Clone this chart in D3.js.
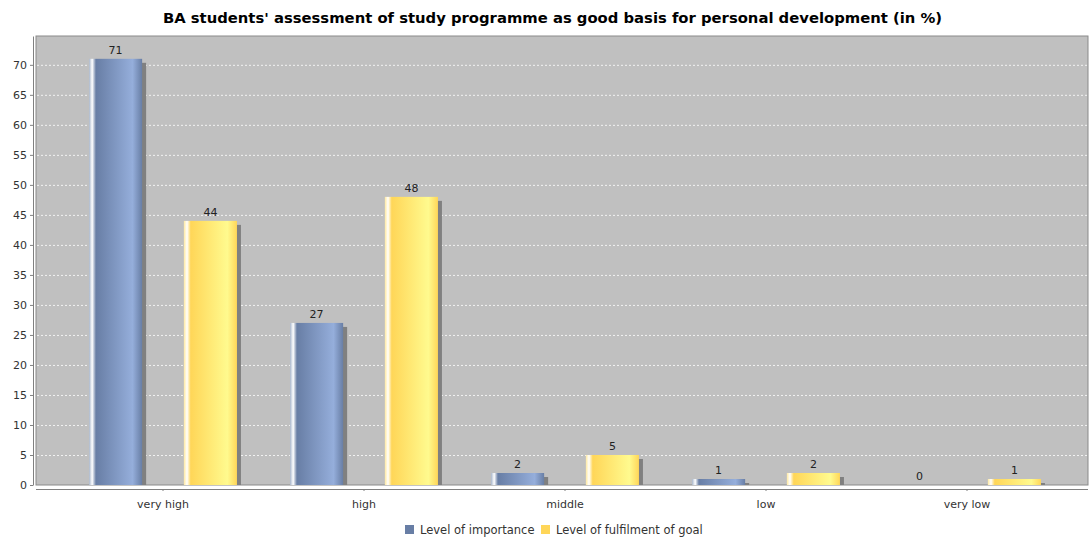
<!DOCTYPE html>
<html>
<head>
<meta charset="utf-8">
<script src="https://cdn.jsdelivr.net/npm/d3@7"></script>
<style>
  body { margin: 0; background: #fff; }
  text { font-family: "DejaVu Sans", sans-serif; }
</style>
</head>
<body>
<div id="chart"></div>
<script>
const categories = ["very high", "high", "middle", "low", "very low"];
const seriesNames = ["Level of importance", "Level of fulfilment of goal"];
const importance = [71, 27, 2, 1, 0];
const fulfilment = [44, 48, 5, 2, 1];
const yTicks = [0, 5, 10, 15, 20, 25, 30, 35, 40, 45, 50, 55, 60, 65, 70];

const width = 1089, height = 540;
const plot = {left: 36, top: 36, right: 1088, bottom: 485};

const svg = d3.select("#chart").append("svg")
  .attr("width", width)
  .attr("height", height);

// gradients like the java chart bar painter
const defs = svg.append("defs");
const colors = [
  {base: "#687ea5", light: "#95aedb", edge: "#a9b7cc"},
  {base: "#ffd658", light: "#fffa8e", edge: "#ffe9a0"}
];
colors.forEach((c, i) => {
  const g = defs.append("linearGradient").attr("id", "grad" + i)
    .attr("x1", "0%").attr("x2", "100%").attr("y1", "0%").attr("y2", "0%");
  g.append("stop").attr("offset", "0%").attr("stop-color", c.edge);
  g.append("stop").attr("offset", "6%").attr("stop-color", "#ffffff");
  g.append("stop").attr("offset", "13%").attr("stop-color", c.base);
  g.append("stop").attr("offset", "82%").attr("stop-color", c.light);
  g.append("stop").attr("offset", "100%").attr("stop-color", c.base);
});

// title
svg.append("text")
  .attr("x", width / 2 + 8)
  .attr("y", 23)
  .attr("text-anchor", "middle")
  .style("font-size", "14.8px")
  .style("font-weight", "bold")
  .attr("fill", "#000")
  .text("BA students' assessment of study programme as good basis for personal development (in %)");

// plot background
svg.append("rect")
  .attr("x", plot.left).attr("y", plot.top)
  .attr("width", plot.right - plot.left).attr("height", plot.bottom - plot.top)
  .attr("fill", "#c0c0c0")
  .attr("stroke", "#8a8a8a").attr("stroke-width", 1);

const y = d3.scaleLinear()
  .domain([0, 74.8])
  .range([plot.bottom, plot.top]);

const x0 = d3.scaleBand()
  .domain(categories)
  .range([plot.left + 26.5, plot.right - 20.5]);

const x1 = d3.scaleBand()
  .domain(seriesNames)
  .range([0, x0.bandwidth()])
  .paddingInner(0.44)
  .paddingOuter(0.28);

// grid lines
svg.append("g")
  .selectAll("line")
  .data(yTicks.filter(d => d > 0))
  .join("line")
  .attr("x1", plot.left + 1).attr("x2", plot.right - 1)
  .attr("y1", d => y(d) + 0.5).attr("y2", d => y(d) + 0.5)
  .attr("stroke", "#ffffff")
  .attr("stroke-opacity", 0.8)
  .attr("stroke-dasharray", "2,2");

// y axis
const yAxis = svg.append("g")
  .attr("transform", `translate(${plot.left - 3},0)`)
  .call(d3.axisLeft(y).tickValues(yTicks).tickSize(3).tickPadding(3).tickSizeOuter(0));
yAxis.select(".domain").attr("stroke", "#808080");
yAxis.selectAll(".tick line").attr("stroke", "#808080");
yAxis.selectAll("text").style("font-size", "11px").attr("fill", "#333");

// x axis
const xAxis = svg.append("g")
  .attr("transform", `translate(0,${plot.bottom + 4})`)
  .call(d3.axisBottom(x0).tickSize(2).tickPadding(9).tickSizeOuter(0));
xAxis.select(".domain").attr("stroke", "#808080").attr("d", `M${plot.left},0.5H${plot.right}`);
xAxis.selectAll(".tick line").attr("stroke", "#808080");
xAxis.selectAll("text").style("font-size", "11px").attr("fill", "#333");

const rows = categories.map((c, i) => ({
  category: c,
  values: [
    {series: seriesNames[0], idx: 0, value: importance[i]},
    {series: seriesNames[1], idx: 1, value: fulfilment[i]}
  ]
}));

const groups = svg.append("g")
  .selectAll("g")
  .data(rows)
  .join("g")
  .attr("transform", d => `translate(${x0(d.category)},0)`);

// shadows
groups.selectAll("rect.shadow")
  .data(d => d.values.filter(v => v.value > 0))
  .join("rect")
  .attr("class", "shadow")
  .attr("x", d => x1(d.series) + 4)
  .attr("y", d => y(d.value) + 4)
  .attr("width", x1.bandwidth())
  .attr("height", d => Math.max(0, y(0) - y(d.value) - 4))
  .attr("fill", "#808080");

// bars
groups.selectAll("rect.bar")
  .data(d => d.values)
  .join("rect")
  .attr("class", "bar")
  .attr("x", d => x1(d.series))
  .attr("y", d => y(d.value))
  .attr("width", x1.bandwidth())
  .attr("height", d => y(0) - y(d.value))
  .attr("fill", d => `url(#grad${d.idx})`);

// value labels
groups.selectAll("text.val")
  .data(d => d.values)
  .join("text")
  .attr("class", "val")
  .attr("x", d => x1(d.series) + x1.bandwidth() / 2)
  .attr("y", d => y(d.value) - 5)
  .attr("text-anchor", "middle")
  .style("font-size", "11px")
  .attr("fill", "#222")
  .text(d => d.value);

// legend
const legend = svg.append("g").attr("transform", "translate(405,534)");
const legendX = [0, 136];
seriesNames.forEach((s, i) => {
  const lg = legend.append("g").attr("transform", `translate(${legendX[i]},0)`);
  lg.append("rect")
    .attr("x", 0).attr("y", -9)
    .attr("width", 9).attr("height", 9)
    .attr("fill", colors[i].base);
  lg.append("text")
    .attr("x", 15).attr("y", 0)
    .style("font-size", "11.5px")
    .attr("fill", "#333")
    .text(s);
});
</script>
</body>
</html>
